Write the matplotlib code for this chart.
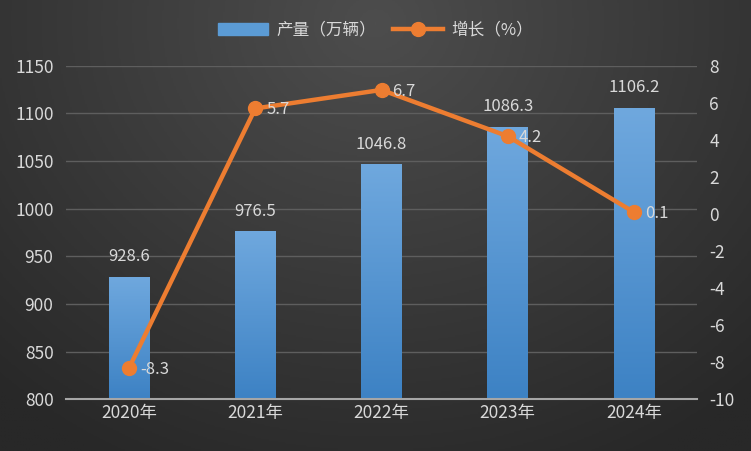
import numpy as np
import matplotlib
matplotlib.use("Agg")
import matplotlib.pyplot as plt
from matplotlib.colors import LinearSegmentedColormap

plt.rcParams['font.family'] = ['Noto Sans CJK SC', 'DejaVu Sans']
plt.rcParams['axes.unicode_minus'] = False

years = ['2020年', '2021年', '2022年', '2023年', '2024年']
output = [928.6, 976.5, 1046.8, 1086.3, 1106.2]
growth = [-8.3, 5.7, 6.7, 4.2, 0.1]

txt_color = '#d9d9d9'

fig = plt.figure(figsize=(7.51, 4.51), dpi=100)

# background gradient (lighter at top centre, darker toward edges)
bg = fig.add_axes([0, 0, 1, 1], zorder=-10)
yy, xx = np.mgrid[0:1:300j, 0:1:500j]
r = np.sqrt(((xx - 0.5) / 0.75) ** 2 + ((yy - 0.05) / 1.1) ** 2)
bg_cmap = LinearSegmentedColormap.from_list('bg', ['#4d4d4d', '#282828'])
bg.imshow(r, cmap=bg_cmap, aspect='auto', extent=[0, 1, 1, 0], vmin=0, vmax=1)
bg.axis('off')

ax = fig.add_axes([0.088, 0.115, 0.84, 0.739])
ax.patch.set_alpha(0)
x = np.arange(len(years))

bars = ax.bar(x, output, width=0.32, color='#5b9bd5', zorder=2)
# vertical gradient on bars
bar_cmap = LinearSegmentedColormap.from_list('bar', ['#3d82c4', '#6fa8de'])
grad = np.linspace(0, 1, 100).reshape(-1, 1)
for b in bars:
    x0, y0 = b.get_x(), b.get_y()
    im = ax.imshow(grad, cmap=bar_cmap, aspect='auto', origin='lower',
                   extent=[x0, x0 + b.get_width(), 800, y0 + b.get_height()], zorder=2)
    im.set_clip_path(b)
    ax.text(b.get_x() + b.get_width() / 2, b.get_height() + 12, f'{b.get_height():.1f}',
            ha='center', va='bottom', color=txt_color, fontsize=12)

ax.set_xlim(-0.5, 4.5)
ax.set_ylim(800, 1150)
ax.set_yticks(np.arange(800, 1151, 50))
ax.set_xticks(x)
ax.set_xticklabels(years)
ax.grid(axis='y', color='#5e5e5e', linewidth=1, zorder=0)
ax.set_axisbelow(True)
for s in ['top', 'right', 'left']:
    ax.spines[s].set_visible(False)
ax.spines['bottom'].set_color('#a6a6a6')
ax.spines['bottom'].set_linewidth(1.5)
ax.tick_params(axis='both', length=0, colors=txt_color, labelsize=12.5)
ax.tick_params(axis='y', pad=9)

ax2 = ax.twinx()
ax2.set_ylim(-10, 8)
ax2.set_yticks(np.arange(-10, 9, 2))
ax2.plot(x, growth, color='#ed7d31', linewidth=3.2, marker='o', markersize=10,
         zorder=3)
for xi, g in zip(x, growth):
    ax2.annotate(f'{g}', (xi, g), xytext=(8, -1), textcoords='offset points',
                 ha='left', va='center', color=txt_color, fontsize=12)
for s in ax2.spines.values():
    s.set_visible(False)
ax2.tick_params(axis='y', length=0, colors=txt_color, labelsize=12.5, pad=9)

h1 = plt.Rectangle((0, 0), 1, 1, color='#5b9bd5')
h2, = ax2.plot([], [], color='#ed7d31', linewidth=3.2, marker='o', markersize=10)
fig.legend([h1, h2], ['产量（万辆）', '增长（%）'], loc='upper center',
           bbox_to_anchor=(0.5, 0.985), ncol=2, frameon=False, fontsize=12,
           labelcolor=txt_color, handlelength=3, columnspacing=1.0, handletextpad=0.5)

fig.savefig('out.png', dpi=100)
